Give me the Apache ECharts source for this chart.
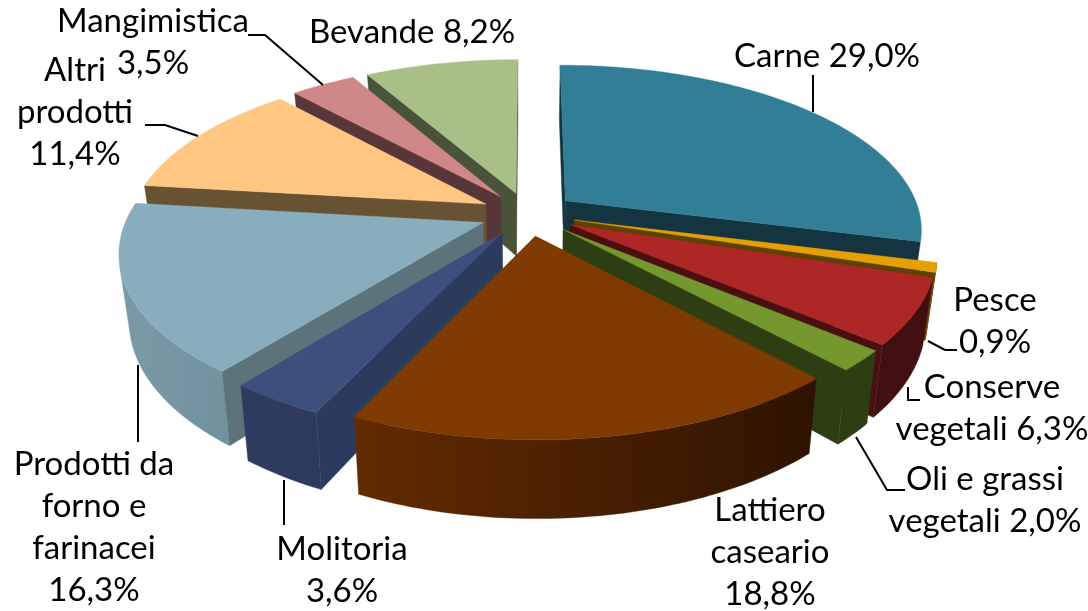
<!DOCTYPE html>
<html><head><meta charset="utf-8">
<script src="https://cdn.jsdelivr.net/npm/echarts@6/dist/echarts.min.js"></script>
<style>html,body{margin:0;background:#fff}#c{width:1088px;height:611px}</style></head>
<body><div id="c"></div>
<script>
const categories = ['Carne','Pesce','Conserve vegetali','Oli e grassi vegetali','Lattiero caseario','Molitoria','Prodotti da forno e farinacei','Altri prodotti','Mangimistica','Bevande'];
const values = [29.0,0.9,6.3,2.0,18.8,3.6,16.3,11.4,3.5,8.2];
const labelLines = ['Carne {v}','Pesce\n{v}','Conserve\nvegetali {v}','Oli e grassi\nvegetali {v}','Lattiero\ncaseario\n{v}','Molitoria\n{v}','Prodotti da\nforno e\nfarinacei\n{v}','Altri\nprodotti\n{v}','Mangimistica\n{v}','Bevande {v}'];

// styling
const topColors = ['#317E96','#E3A000','#AD2727','#75982E','#7F3A02','#3D4F7C','#88ADBD','#FFC781','#D08787','#A9BF88'];
const wallColors = ['#143540','#5C4100','#4A0F10','#2D3E12','#3A1A00','#2C3A5E','#5C737B','#675234','#583639','#49533A'];
const sideLeft = ['#143540','#5C4100','#420F10','#2D3E12','#632B00','#2F3C60','#7B9AA6','#675234','#583639','#49533A'];
const sideRight = ['#143540','#5C4100','#420F10','#2D3E12','#2E1300','#2C3A5E','#6F929D','#675234','#583639','#49533A'];
const FONT = 'Lato, sans-serif', FS = 33, LH = 42;
const labelPos = [[827,56],[995,321],[992,408],[985,500],[770,552],[342,570],[94,527],[75,112],[153,42],[412,32]];
const leaders = [
 [[813,75],[813,112]],
 [[928,341],[945,350],[957,350]],
 [[908,387],[908,400],[920,400]],
 [[856,437],[887,490],[905,490]],
 [[284,480],[284,525]],
 [[138,365],[138,442]],
 [[145,125],[165,125],[198,136]],
 [[248,35],[265,35],[323,85]]
];

// projection of the exploded 3D pie
const CX=528, CY=214, SX=355, SY=162, P=0.165, H=64, EXPLODE=0.135, TAPER=0.025;
const total = values.reduce((a,b)=>a+b,0);
const rad = v => v/total*2*Math.PI;
function proj(x,y,z){ const w=1/(1-P*y); return [CX+SX*x*w*(1-TAPER*z), CY+w*(SY*y+z*H)]; }
const spans=[]; { let c=0; values.forEach(v=>{spans.push([c,c+v]);c+=v;}); }
const midCos = spans.map(s=>Math.cos(rad((s[0]+s[1])/2)));
const drawOrder = values.map((_,i)=>i).sort((a,b)=>midCos[b]-midCos[a]);

function area(p){let s=0;for(let i=0;i<p.length;i++){const q=p[(i+1)%p.length];s+=p[i][0]*q[1]-q[0]*p[i][1];}return s;}

function renderItem(params, api){
  const i = api.value(0), a0=rad(spans[i][0]), a1=rad(spans[i][1]), am=(a0+a1)/2;
  const ox=EXPLODE*Math.sin(am), oy=-EXPLODE*Math.cos(am);
  const rim=(a,z)=>proj(ox+Math.sin(a),oy-Math.cos(a),z);
  const n=Math.max(4,Math.ceil((a1-a0)/0.02));
  const angs=[]; for(let k=0;k<=n;k++) angs.push(a0+(a1-a0)*k/n);
  const children=[];
  const poly=(points,fill)=>children.push({type:'polygon',shape:{points},style:{fill,stroke:fill,lineWidth:0.4}});
  const ap0=proj(ox,oy,0), ap1=proj(ox,oy,1);
  // outer surface: only the part facing the viewer
  let run=[];
  const flush=()=>{ if(run.length>1){
      const pts=run.map(a=>rim(a,0)).concat(run.slice().reverse().map(a=>rim(a,1)));
      poly(pts,new echarts.graphic.LinearGradient(0,0,1,0,[{offset:0,color:sideLeft[i]},{offset:1,color:sideRight[i]}]));
    } run=[]; };
  for(let k=0;k<n;k++){
    const q=[rim(angs[k],0),rim(angs[k+1],0),rim(angs[k+1],1),rim(angs[k],1)];
    if(area(q)<0){ if(!run.length) run.push(angs[k]); run.push(angs[k+1]); } else flush();
  }
  flush();
  // cut walls
  const ws=[ap0,rim(a0,0),rim(a0,1),ap1];
  if(area(ws)<0) poly(ws,wallColors[i]);
  const we=[ap0,rim(a1,0),rim(a1,1),ap1];
  if(area(we)>0) poly(we,wallColors[i]);
  // top face
  poly([ap0].concat(angs.map(a=>rim(a,0))),topColors[i]);
  return {type:'group',children};
}

const fmt = v => v.toFixed(1).replace('.',',')+'%';
const graphics = labelLines.map((t,i)=>({
  type:'text', x:labelPos[i][0], y:labelPos[i][1], silent:true, z:10,
  style:{text:t.replace('{v}',fmt(values[i])), font:FS+'px '+FONT, fill:'#000', align:'center', verticalAlign:'middle', lineHeight:LH}
})).concat(leaders.map(pts=>({
  type:'polyline', shape:{points:pts}, silent:true, z:9, style:{stroke:'#000',lineWidth:2,fill:null}
})));

const chart = echarts.init(document.getElementById('c'),null,{renderer:'canvas'});
chart.setOption({
  animation:false, backgroundColor:'#fff',
  series:[{type:'custom',coordinateSystem:'none',renderItem,silent:true,
    data:drawOrder.map(i=>({name:categories[i],value:[i,values[i]]}))}],
  graphic:graphics
});
</script></body></html>
